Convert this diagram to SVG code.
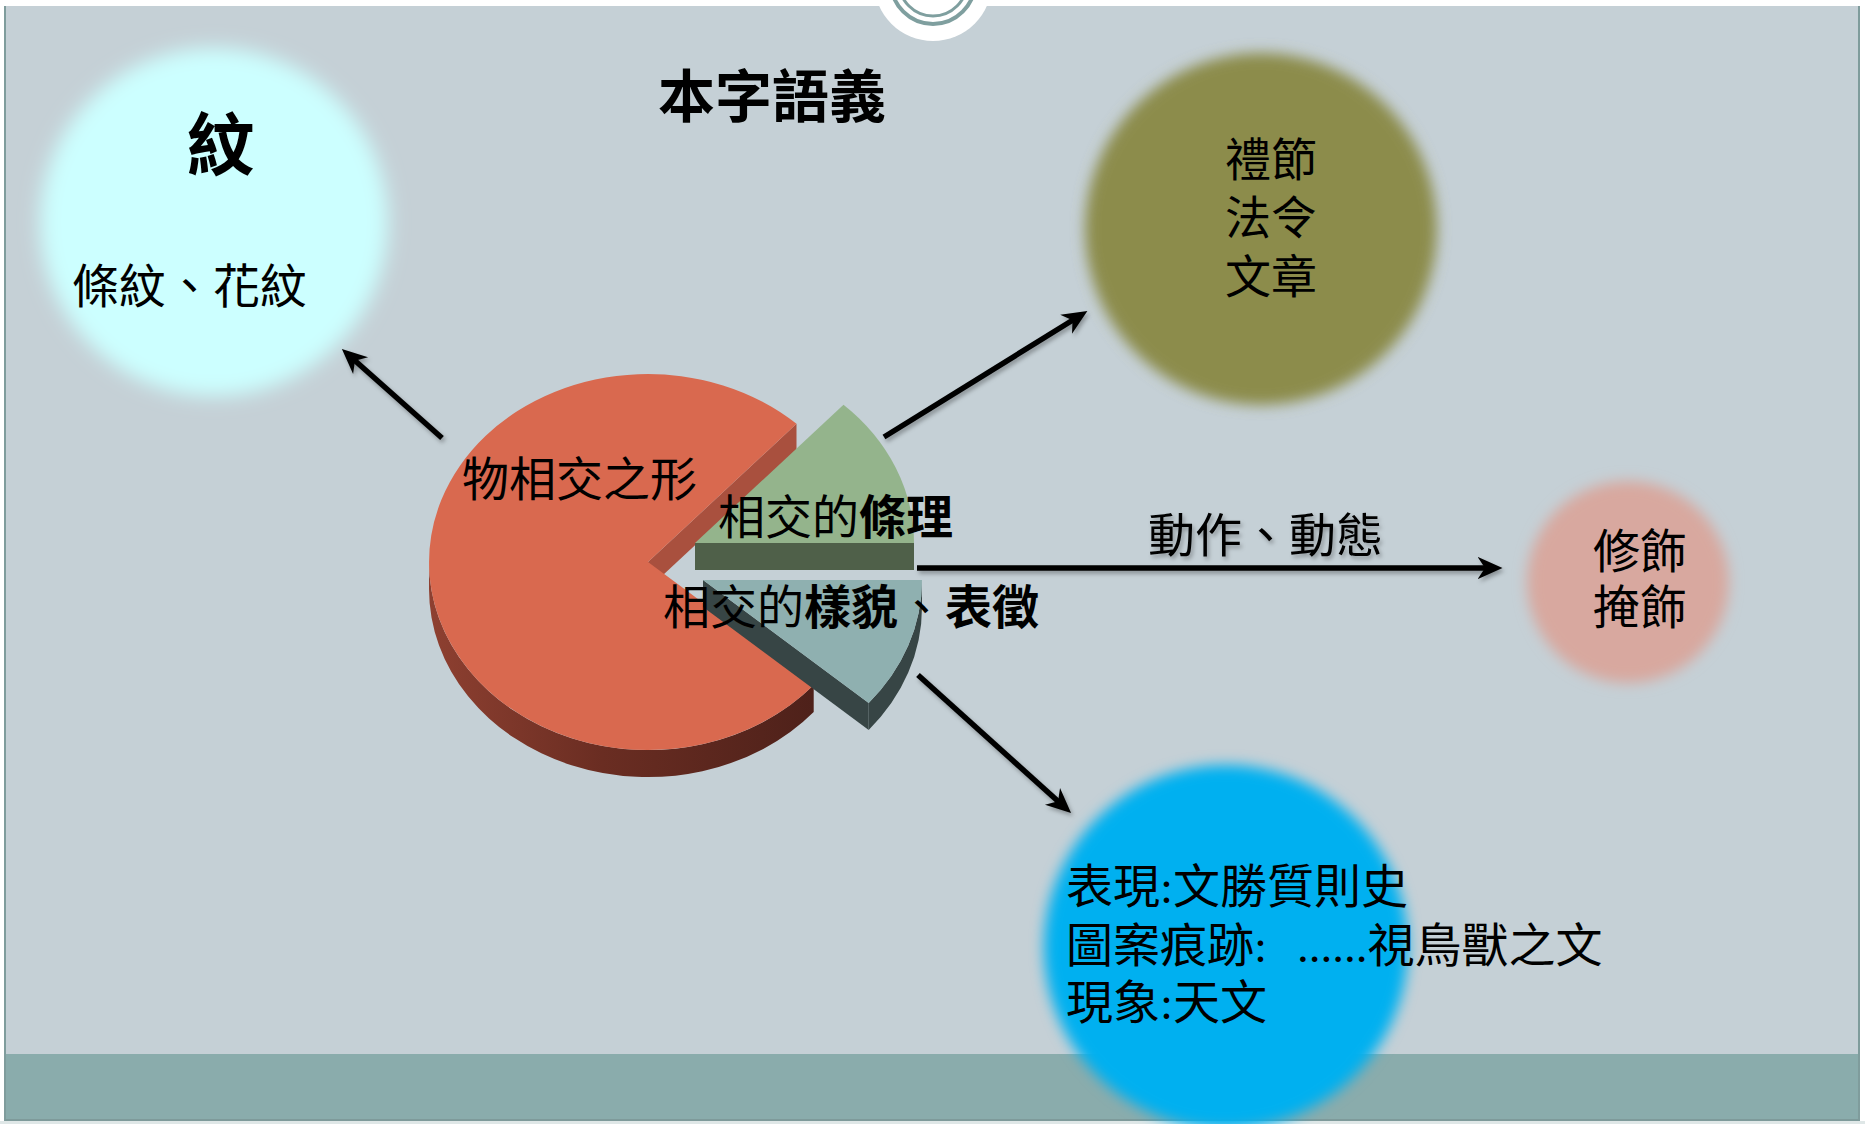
<svg xmlns="http://www.w3.org/2000/svg" width="1865" height="1124" viewBox="0 0 1865 1124">
<style>
.t{font-family:"Liberation Serif","Noto Sans CJK TC",serif;font-size:47px;fill:#000}
.b{font-weight:bold}
.conn{stroke:#000;stroke-width:5.5;fill:none;marker-end:url(#ah)}
</style>
<defs>
<filter id="blur" x="-20%" y="-20%" width="140%" height="140%"><feGaussianBlur stdDeviation="7"/></filter>
<filter id="blur2" x="-20%" y="-20%" width="140%" height="140%"><feGaussianBlur stdDeviation="10"/></filter>
<filter id="sh" x="-10%" y="-10%" width="120%" height="120%"><feDropShadow dx="2" dy="3" stdDeviation="2" flood-color="#000" flood-opacity="0.3"/></filter>
<marker id="ah" viewBox="0 0 10 10" refX="7" refY="5" markerWidth="25" markerHeight="25" markerUnits="userSpaceOnUse" orient="auto">
<path d="M0,0.5 L10,5 L0,9.5 L3,5 Z" fill="#000"/>
</marker>
<linearGradient id="redwall" x1="429" y1="0" x2="814" y2="0" gradientUnits="userSpaceOnUse">
<stop offset="0" stop-color="#8E4031"/><stop offset="0.45" stop-color="#6A2D22"/><stop offset="1" stop-color="#4E211A"/>
</linearGradient>
</defs>

<g id="background">
<rect x="0" y="0" width="1865" height="1124" fill="#FFFFFF"/>
<rect x="5" y="6" width="1855" height="1115" fill="#C5D0D6"/>
<rect x="5" y="1054" width="1855" height="66" fill="#8AACAC"/>
<rect x="0" y="1121" width="1865" height="3" fill="#DFE7E7"/>
<line x1="5" y1="6" x2="5" y2="1121" stroke="#7F9C9C" stroke-width="2"/>
<line x1="1859" y1="6" x2="1859" y2="1121" stroke="#7F9C9C" stroke-width="2"/>
<line x1="5" y1="1120" x2="1860" y2="1120" stroke="#7E9A9A" stroke-width="2"/>
<circle cx="933" cy="-18" r="59" fill="#FFFFFF"/>
<circle cx="933" cy="-18" r="42" fill="none" stroke="#7F9F9F" stroke-width="4"/>
<circle cx="933" cy="-18" r="34" fill="none" stroke="#7F9F9F" stroke-width="3"/>
</g>

<g id="title">
<text class="t b" x="658" y="117" style="font-size:57px">本字語義</text>
</g>

<g id="node-wen">
<circle cx="214" cy="222" r="174" fill="#CCFFFF" filter="url(#blur2)"/>
<text class="t b" x="221" y="170" text-anchor="middle" style="font-size:68px">紋</text>
<text class="t" x="72" y="303">條紋、花紋</text>
</g>

<g id="node-lijie">
<circle cx="1261" cy="229" r="176" fill="#8C8C4C" filter="url(#blur)"/>
<text class="t" x="1225" y="176" style="font-size:46px">禮節</text>
<text class="t" x="1225" y="234" style="font-size:46px">法令</text>
<text class="t" x="1225" y="293" style="font-size:46px">文章</text>
</g>

<g id="node-xiushi">
<circle cx="1628" cy="582" r="101" fill="#D8A89F" filter="url(#blur)"/>
<text class="t" x="1593" y="568">修飾</text>
<text class="t" x="1593" y="624">掩飾</text>
</g>

<g id="node-biaoxian">
<circle cx="1226" cy="947" r="182" fill="#00B0F0" filter="url(#blur)"/>
<text class="t" x="1066" y="903">表現:文勝質則史</text>
<text class="t" x="1066" y="962">圖案痕跡: <tspan x="1297">......視鳥獸之文</tspan></text>
<text class="t" x="1066" y="1019">現象:天文</text>
</g>

<g id="node-pie">
<path d="M429,562 A219,188 0 0 0 813.7,685 L813.7,712 A219,188 0 0 1 429,589 Z" fill="url(#redwall)"/>
<path d="M648,562 L796.5,423.8 L796.5,450.8 L648,589 Z" fill="#A9503E"/>
<path d="M648,562 L796.5,423.8 A219,188 0 1 0 813.7,685 Z" fill="#D9694F"/>
<rect x="695" y="543" width="219" height="27" fill="#4F6049"/>
<path d="M695,543 L843.5,404.8 A219,188 0 0 1 914,543 Z" fill="#94B48C"/>
<path d="M703,580 L868.7,703 L868.7,730 L703,607 Z" fill="#374545"/>
<path d="M922,580 A219,188 0 0 1 868.7,703 L868.7,730 A219,188 0 0 0 922,607 Z" fill="#374545"/>
<path d="M703,580 L922,580 A219,188 0 0 1 868.7,703 Z" fill="#8FB0B0"/>
<text class="t" x="462" y="496">物相交之形</text>
<text class="t" x="718" y="534">相交的<tspan class="b">條理</tspan></text>
<text class="t" x="663" y="624">相交的<tspan class="b">樣貌</tspan>、<tspan class="b">表徵</tspan></text>
</g>

<g id="connectors" filter="url(#sh)">
<line class="conn" x1="442" y1="438" x2="347.5" y2="354"/>
<line class="conn" x1="884" y1="437" x2="1081" y2="315"/>
<line class="conn" x1="917" y1="568" x2="1495" y2="568"/>
<line class="conn" x1="918" y1="675" x2="1065.5" y2="808"/>
<text class="t" x="1148" y="552">動作、動態</text>
</g>
</svg>
